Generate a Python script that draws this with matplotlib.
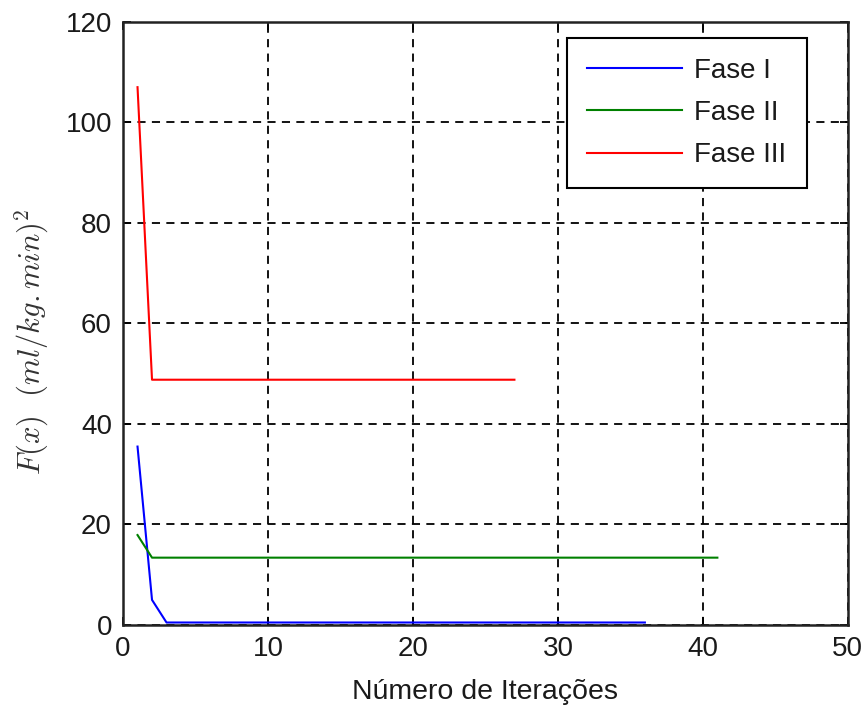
import matplotlib
matplotlib.use("Agg")
import matplotlib.pyplot as plt

plt.rcParams['font.family'] = ['Liberation Sans', 'DejaVu Sans']
plt.rcParams['mathtext.fontset'] = 'cm'

iter_f1 = list(range(1, 37))
fase1 = [35.5, 5.0, 0.5, 0.5, 0.5, 0.5, 0.5, 0.5, 0.5, 0.5,
         0.5, 0.5, 0.5, 0.5, 0.5, 0.5, 0.5, 0.5, 0.5, 0.5,
         0.5, 0.5, 0.5, 0.5, 0.5, 0.5, 0.5, 0.5, 0.5, 0.5,
         0.5, 0.5, 0.5, 0.5, 0.5, 0.5]

iter_f2 = list(range(1, 42))
fase2 = [17.9, 13.4, 13.4, 13.4, 13.4, 13.4, 13.4, 13.4, 13.4, 13.4,
         13.4, 13.4, 13.4, 13.4, 13.4, 13.4, 13.4, 13.4, 13.4, 13.4,
         13.4, 13.4, 13.4, 13.4, 13.4, 13.4, 13.4, 13.4, 13.4, 13.4,
         13.4, 13.4, 13.4, 13.4, 13.4, 13.4, 13.4, 13.4, 13.4, 13.4,
         13.4]

iter_f3 = list(range(1, 28))
fase3 = [107.0, 48.8, 48.8, 48.8, 48.8, 48.8, 48.8, 48.8, 48.8, 48.8,
         48.8, 48.8, 48.8, 48.8, 48.8, 48.8, 48.8, 48.8, 48.8, 48.8,
         48.8, 48.8, 48.8, 48.8, 48.8, 48.8, 48.8]

labels = ['Fase I', 'Fase II', 'Fase III']
xticks = [0, 10, 20, 30, 40, 50]
yticks = [0, 20, 40, 60, 80, 100, 120]

fig = plt.figure(figsize=(8.67, 7.13), dpi=100)
ax = fig.add_axes([0.1419, 0.1234, 0.836, 0.846])

ax.plot(iter_f1, fase1, color='#0000ff', lw=1.5, label=labels[0])
ax.plot(iter_f2, fase2, color='#008000', lw=1.5, label=labels[1])
ax.plot(iter_f3, fase3, color='#ff0000', lw=1.5, label=labels[2])

ax.set_xlim(0, 50)
ax.set_ylim(0, 120)
ax.set_xticks(xticks)
ax.set_yticks(yticks)
ax.tick_params(direction='in', top=True, right=True, labelsize=20, length=6,
               width=1.3, pad=8, labelcolor='#1a1a1a')
for s in ax.spines.values():
    s.set_linewidth(1.8)
    s.set_color('#222222')
ax.grid(True, color='black', linestyle=(0, (4.5, 3.5)), linewidth=1.3)

ax.set_xlabel('Número de Iterações', fontsize=20.5, color='#1a1a1a', labelpad=12)
ax.set_ylabel(r'$F(x)\ \ (ml/kg.min)^2$', fontsize=22, color='#333333')
ax.yaxis.set_label_coords(-0.1, 0.47)

leg = ax.legend(loc='upper right', fontsize=20, fancybox=False, framealpha=1,
                edgecolor='black', borderpad=0.72, handlelength=3.4, handletextpad=0.45,
                labelspacing=0.58, borderaxespad=0,
                bbox_to_anchor=(0.943, 0.973))
leg.get_frame().set_linewidth(1.5)
for t in leg.get_texts():
    t.set_color('#1a1a1a')

fig.savefig('out.png', dpi=100)
